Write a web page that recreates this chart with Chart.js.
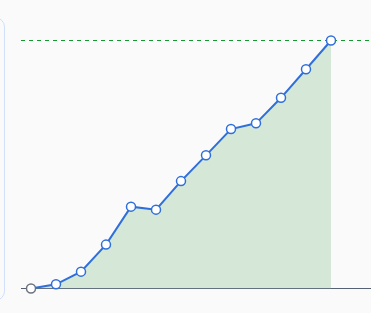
<!DOCTYPE html>
<html>
<head>
<meta charset="utf-8">
<script src="https://cdn.jsdelivr.net/npm/chart.js@4"></script>
<style>
  html, body { margin: 0; padding: 0; background: #fafafa; }
  .wrap { position: relative; width: 371px; height: 313px; overflow: hidden; }
  .card { position: absolute; left: -30px; top: 17px; width: 33px; height: 282px;
          border: 1px solid #d0e0fa; border-radius: 10px; }
  canvas { position: absolute; left: 0; top: 0; }
</style>
</head>
<body>
<div class="wrap">
  <div class="card"></div>
  <canvas id="chart" width="371" height="313"></canvas>
</div>
<script>
const steps = [0, 1, 2, 3, 4, 5, 6, 7, 8, 9, 10, 11, 12];
const progress = [0, 1.7, 6.8, 17.7, 33, 31.8, 43.3, 53.7, 64.3, 66.6, 76.9, 88.4, 100];
const target = 100;
const xMin = -0.4, xMax = 13.6;

const blue = '#2f6fdb';
const gray = '#566173';

new Chart(document.getElementById('chart'), {
    type: 'line',
    data: {
        datasets: [
            {
                data: steps.map((s, i) => ({ x: s, y: progress[i] })),
                borderColor: blue,
                borderWidth: 2,
                backgroundColor: '#d5e8d8',
                fill: 'origin',
                tension: 0,
                clip: false,
                pointRadius: 4.5,
                pointHoverRadius: 4.5,
                pointBorderWidth: 1.5,
                pointBackgroundColor: '#ffffff',
                pointBorderColor: steps.map((_, i) => i === 0 ? '#6b7280' : blue),
                order: 0
            },
            {
                data: [{ x: xMin, y: target }, { x: xMax, y: target }],
                borderColor: '#119a2e',
                borderWidth: 1,
                borderDash: [4, 4],
                pointRadius: 0,
                fill: false,
                clip: false,
                order: 2
            },
            {
                data: [{ x: xMin, y: 0 }, { x: xMax, y: 0 }],
                borderColor: gray,
                borderWidth: 1,
                pointRadius: 0,
                fill: false,
                clip: false,
                order: 1
            }
        ]
    },
    options: {
        responsive: false,
        animation: false,
        layout: { autoPadding: false, padding: { left: 21, right: 0, top: 15.7, bottom: 24.5 } },
        plugins: { legend: { display: false }, tooltip: { enabled: false } },
        scales: {
            x: { type: 'linear', display: false, min: xMin, max: xMax },
            y: { display: false, min: 0, max: 110 }
        }
    }
});
</script>
</body>
</html>
